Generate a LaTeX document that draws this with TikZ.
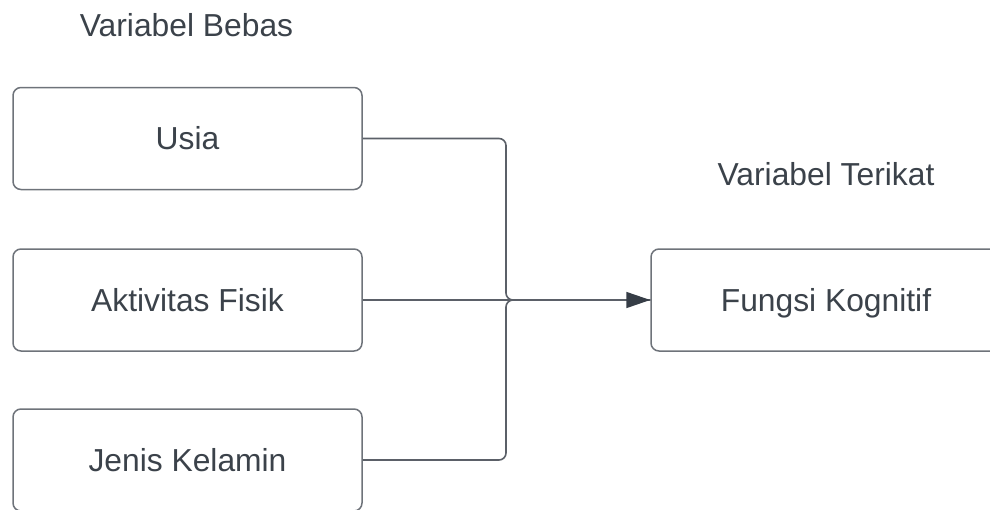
\documentclass[tikz,border=0pt]{standalone}
\usepackage{fontspec}
\setmainfont{Liberation Sans}
\usetikzlibrary{arrows.meta}
\definecolor{boxline}{HTML}{6E737A}
\definecolor{conn}{HTML}{5B6068}
\definecolor{txt}{HTML}{3B424A}
\definecolor{tip}{HTML}{363D46}
\tikzset{
  varbox/.style={draw=boxline, line width=1.5pt, rounded corners=8pt,
    minimum width=349pt, minimum height=102pt, inner sep=0pt,
    text=txt, font=\fontsize{31.8}{36}\selectfont,
    text height=22.8pt, text depth=0pt},
  heading/.style={text=txt, font=\fontsize{31.8}{36}\selectfont,
    text height=22.8pt, text depth=0pt, inner sep=0pt},
  link/.style={draw=conn, line width=1.6pt, rounded corners=7pt},
  arrowlink/.style={draw=conn, line width=1.6pt,
    -{Triangle[length=24pt,width=16pt,fill=tip,color=tip]}}
}
\begin{document}
\begin{tikzpicture}[x=1pt,y=-1pt]
\useasboundingbox (0,0) rectangle (990,509);
\clip (0,0) rectangle (990,509);
\node[heading] (hbebas) at (186.5,25) {Variabel Bebas};
\node[heading] (hterikat) at (826,174) {Variabel Terikat};
\node[varbox] (usia) at (187.5,138.5) {Usia};
\node[varbox] (aktiv) at (187.5,300) {Aktivitas Fisik};
\node[varbox] (jenis) at (187.5,460) {Jenis Kelamin};
\node[varbox, minimum width=350pt] (fungsi) at (826,300) {Fungsi Kognitif};
\coordinate (merge) at (506,300);
\draw[link] (usia.east) -| (merge) -- (fungsi.west);
\draw[link] (jenis.east) -| (merge) -- (fungsi.west);
\draw[arrowlink] (aktiv.east) -- (fungsi.west);
\end{tikzpicture}
\end{document}
